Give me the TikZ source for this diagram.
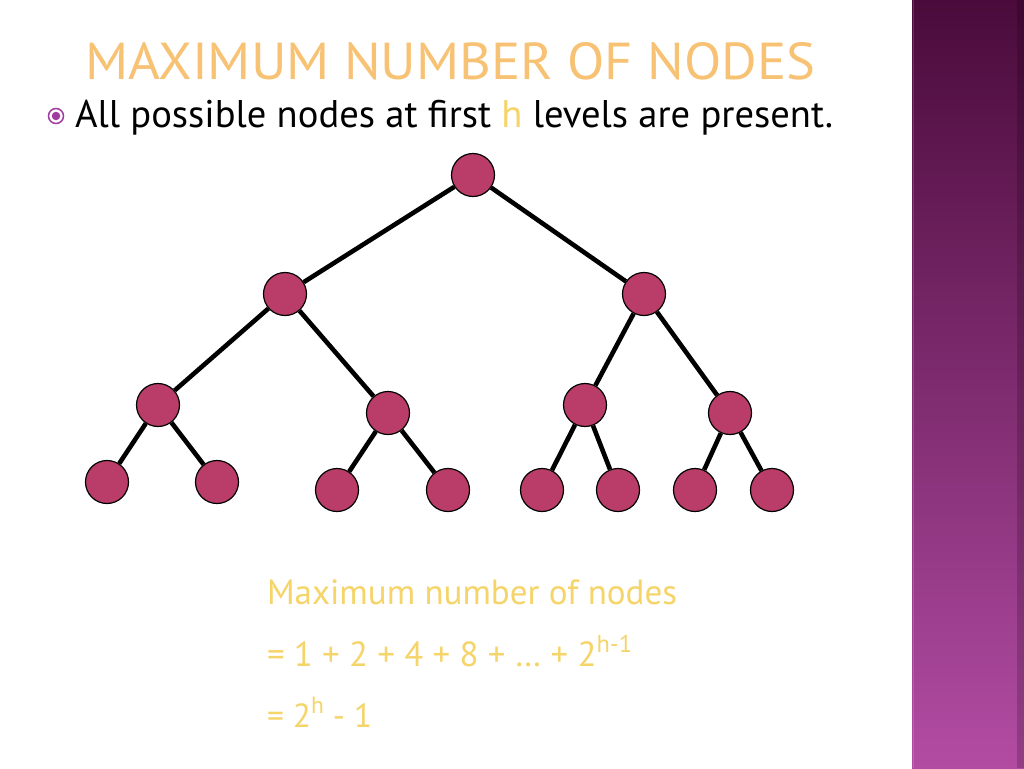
\documentclass[tikz,border=0pt]{standalone}
\usepackage{fontspec}
\setmainfont{PT Sans}
\usetikzlibrary{shadings}
\definecolor{nodefill}{RGB}{185,61,104}
\definecolor{ytext}{RGB}{245,212,105}
\definecolor{titleorange}{RGB}{248,194,116}
\definecolor{bartop}{RGB}{74,11,59}
\definecolor{barmid}{RGB}{122,44,108}
\definecolor{barbot}{RGB}{178,76,163}
\definecolor{bulletc}{RGB}{160,60,160}
\begin{document}
\begin{tikzpicture}[x=1pt,y=-1pt,
  treenode/.style={circle,draw=black,line width=1.2pt,fill=nodefill,minimum size=43pt,inner sep=0pt},
  edge/.style={line width=4.6pt,black},
  txt/.style={anchor=base west,inner sep=0pt,outer sep=0pt}]
\useasboundingbox (0,0) rectangle (1024,768);
\fill[white] (0,0) rectangle (1024,768);
% side bar
\shade[top color=bartop,middle color=barmid,bottom color=barbot] (912,0) rectangle (1024,768);
\fill[black,opacity=0.18] (1017,0) rectangle (1024,768);
\draw[white,opacity=0.15,line width=1pt] (913,0) -- (913,768);
% title
\node[txt,text=titleorange] (title) at (85,80) {\resizebox{730pt}{37pt}{MAXIMUM NUMBER OF NODES}};
% bullet
\node[circle,draw=bulletc,line width=1.5pt,minimum size=15pt,inner sep=0pt] (bul) at (56,116) {};
\node[circle,fill=bulletc,minimum size=8.5pt,inner sep=0pt] (buldot) at (bul.center) {};
\node[txt] (btext) at (75,127) {\resizebox{758pt}{!}{All possible nodes at first \textcolor{ytext}{h} levels are present.}};
% tree
\node[treenode] (r) at (473,175) {};
\node[treenode] (a) at (285,294) {};
\node[treenode] (b) at (644,294) {};
\node[treenode] (a1) at (158,405) {};
\node[treenode] (a2) at (388,413) {};
\node[treenode] (b1) at (585,405) {};
\node[treenode] (b2) at (730,413) {};
\node[treenode] (l1) at (107,482) {};
\node[treenode] (l2) at (217,482) {};
\node[treenode] (l3) at (337,490) {};
\node[treenode] (l4) at (448,490) {};
\node[treenode] (l5) at (542,490) {};
\node[treenode] (l6) at (618,490) {};
\node[treenode] (l7) at (695,490) {};
\node[treenode] (l8) at (772,490) {};
\begin{scope}[on background layer/.style={}]
\draw[edge] (r) -- (a);
\draw[edge] (r) -- (b);
\draw[edge] (a) -- (a1);
\draw[edge] (a) -- (a2);
\draw[edge] (b) -- (b1);
\draw[edge] (b) -- (b2);
\draw[edge] (a1) -- (l1);
\draw[edge] (a1) -- (l2);
\draw[edge] (a2) -- (l3);
\draw[edge] (a2) -- (l4);
\draw[edge] (b1) -- (l5);
\draw[edge] (b1) -- (l6);
\draw[edge] (b2) -- (l7);
\draw[edge] (b2) -- (l8);
\end{scope}
% formula
\node[txt,text=ytext] (f1) at (267,604) {\resizebox{410pt}{!}{Maximum number of nodes}};
\node[txt,text=ytext] (f2) at (267,666) {\resizebox{365pt}{!}{= 1 + 2 + 4 + 8 + … + 2\raisebox{0.8ex}{\scriptsize h-1}}};
\node[txt,text=ytext] (f3) at (267,727) {\resizebox{105pt}{!}{= 2\raisebox{0.8ex}{\scriptsize h} - 1}};
\end{tikzpicture}
\end{document}
